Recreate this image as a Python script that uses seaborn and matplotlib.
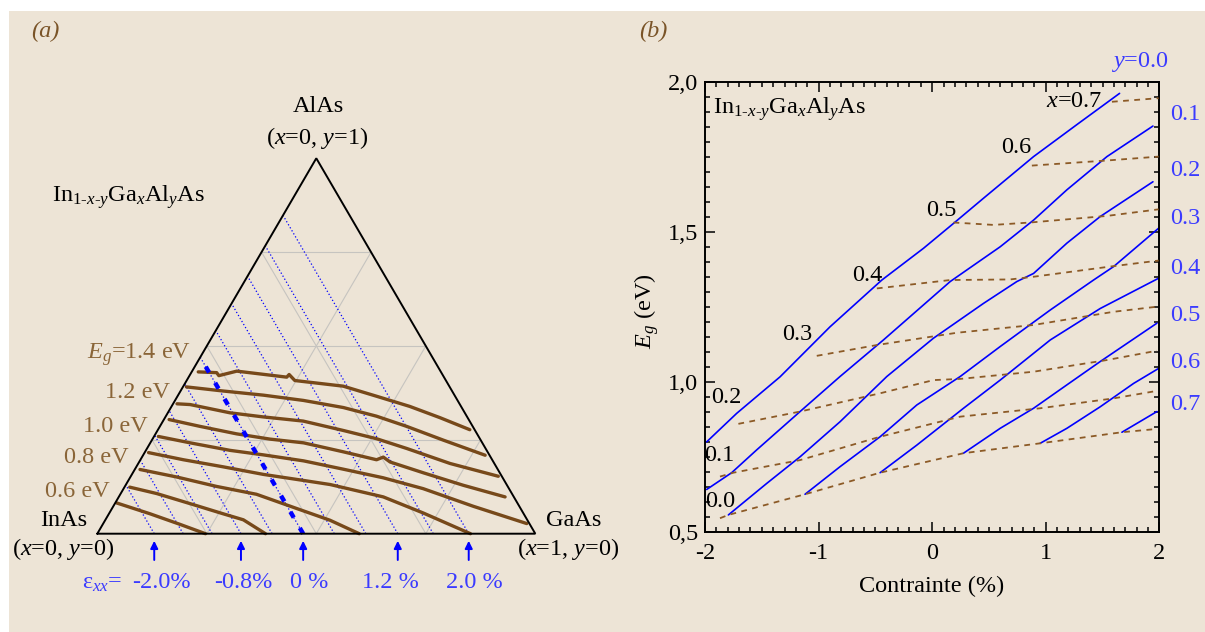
import numpy as np
import matplotlib
matplotlib.use('Agg')
import matplotlib.pyplot as plt
from matplotlib.patches import Rectangle
from matplotlib.ticker import MultipleLocator
import seaborn as sns

sns.set_theme(style='white')
plt.rcParams['font.family'] = ['Liberation Serif', 'DejaVu Serif']
plt.rcParams['mathtext.fontset'] = 'custom'
plt.rcParams['mathtext.rm'] = 'Liberation Serif'
plt.rcParams['mathtext.it'] = 'Liberation Serif:italic'
plt.rcParams['mathtext.bf'] = 'Liberation Serif:bold'
for k in ['text.color', 'axes.labelcolor', 'xtick.color', 'ytick.color', 'axes.edgecolor']:
    plt.rcParams[k] = 'black'

W, H = 1205, 632
BG = '#ede4d6'
BROWN = '#77491a'
LBROWN = '#8a6538'
DBROWN = '#8c5a26'
LBLUE = '#3b3bff'
FS = 17.5

# ---------------- (a) ternary data: In(1-x-y) Ga(x) Al(y) As ----------------
# iso-strain lines, Ga fraction where they meet the InAs-GaAs side (y=0)
strain_levels = [-2.0, -1.6, -1.2, -0.8, -0.4, 0.0, 0.4, 0.8, 1.2, 1.6, 2.0]
strain_ga = [0.130, 0.196, 0.262, 0.328, 0.399, 0.470, 0.541, 0.613, 0.686, 0.767, 0.848]
arrow_strains = [-2.0, -0.8, 0.0, 1.2, 2.0]
arrow_labels = ['-2.0%', '-0.8%', '0 %', '1.2 %', '2.0 %']

# iso-gap contours (x = Ga, y = Al)
eg_levels = [1.4, 1.3, 1.2, 1.1, 1.0, 0.9, 0.8, 0.7, 0.6]
eg_x = [
    [0.015, 0.058, 0.067, 0.102, 0.224, 0.226, 0.247, 0.365, 0.455, 0.544, 0.628, 0.712],
    [0.008, 0.098, 0.195, 0.293, 0.394, 0.481, 0.563, 0.666, 0.781],
    [0.009, 0.040, 0.142, 0.224, 0.320, 0.424, 0.511, 0.593, 0.712, 0.839],
    [0.012, 0.091, 0.185, 0.268, 0.350, 0.453, 0.539, 0.551, 0.573, 0.664, 0.771, 0.882],
    [0.010, 0.091, 0.192, 0.274, 0.374, 0.475, 0.578, 0.684, 0.822, 0.967],
    [0.009, 0.098, 0.199, 0.300, 0.399, 0.466, 0.604, 0.717, 0.852],
    [0.012, 0.106, 0.209, 0.311, 0.422, 0.513, 0.598],
    [0.012, 0.082, 0.172, 0.261, 0.315, 0.384],
    [0.003, 0.094, 0.176, 0.247],
]
eg_y = [
    [0.431, 0.429, 0.421, 0.433, 0.417, 0.424, 0.408, 0.393, 0.366, 0.339, 0.309, 0.277],
    [0.391, 0.380, 0.369, 0.355, 0.336, 0.313, 0.286, 0.249, 0.209],
    [0.346, 0.344, 0.322, 0.311, 0.300, 0.275, 0.253, 0.227, 0.187, 0.153],
    [0.304, 0.286, 0.266, 0.252, 0.242, 0.218, 0.197, 0.204, 0.191, 0.162, 0.129, 0.098],
    [0.259, 0.242, 0.222, 0.210, 0.194, 0.172, 0.149, 0.120, 0.073, 0.027],
    [0.216, 0.197, 0.178, 0.158, 0.142, 0.131, 0.098, 0.055, 0.000],
    [0.171, 0.151, 0.126, 0.105, 0.067, 0.036, 0.000],
    [0.124, 0.107, 0.080, 0.053, 0.037, 0.000],
    [0.082, 0.053, 0.025, 0.000],
]
eg_labels = [r'$E_g$=1.4 eV', '1.2 eV', '1.0 eV', '0.8 eV', '0.6 eV']

# ---------------- (b) Eg versus strain ----------------
# solid blue: constant Al fraction y
y_levels = [0.0, 0.1, 0.2, 0.3, 0.4, 0.5, 0.6, 0.7]
y_strain = [
    [-1.985, -1.721, -1.339, -0.899, -0.443, -0.076, 0.188, 0.452, 0.893, 1.275, 1.650],
    [-1.985, -1.765, -1.545, -1.163, -0.811, -0.429, 0.159, 0.599, 0.893, 1.186, 1.539, 1.944],
    [-1.794, -1.457, -1.163, -0.811, -0.399, 0.012, 0.452, 0.746, 0.893, 1.186, 1.480, 1.944],
    [-1.119, -0.811, -0.458, -0.135, 0.247, 0.599, 1.040, 1.421, 1.598, 1.994],
    [-0.458, -0.135, 0.276, 0.599, 1.040, 1.480, 1.994],
    [0.276, 0.599, 0.893, 1.186, 1.480, 1.979],
    [0.951, 1.186, 1.480, 1.774, 1.994],
    [1.671, 1.979],
]
y_eg = [
    [0.800, 0.895, 1.017, 1.184, 1.340, 1.446, 1.529, 1.613, 1.752, 1.859, 1.963],
    [0.641, 0.697, 0.773, 0.901, 1.018, 1.140, 1.335, 1.451, 1.540, 1.641, 1.752, 1.854],
    [0.556, 0.661, 0.750, 0.867, 1.018, 1.146, 1.262, 1.335, 1.362, 1.463, 1.552, 1.668],
    [0.625, 0.717, 0.817, 0.923, 1.018, 1.118, 1.240, 1.340, 1.385, 1.513],
    [0.697, 0.789, 0.912, 1.006, 1.140, 1.245, 1.346],
    [0.762, 0.845, 0.912, 0.990, 1.068, 1.196],
    [0.795, 0.845, 0.917, 0.995, 1.045],
    [0.832, 0.901],
]
# dashed brown: constant Ga fraction x
x_levels = [0.0, 0.1, 0.2, 0.3, 0.4, 0.5, 0.6, 0.7]
x_strain = [
    [-1.868, -1.794, -1.119, -0.458, 0.276, 0.951, 1.671, 1.979],
    [-1.868, -1.750, -1.163, -0.458, 0.247, 0.951, 1.597, 1.979],
    [-1.706, -1.163, -0.458, 0.012, 0.247, 0.893, 1.539, 1.979],
    [-1.016, -0.487, 0.217, 0.893, 1.597, 1.979],
    [-0.487, 0.159, 0.687, 0.893, 1.568, 1.994],
    [0.188, 0.540, 0.863, 1.539, 1.994],
    [0.878, 1.539, 1.994],
    [1.583, 1.994],
]
x_eg = [
    [0.545, 0.556, 0.625, 0.697, 0.762, 0.795, 0.832, 0.843],
    [0.684, 0.697, 0.739, 0.817, 0.884, 0.912, 0.945, 0.970],
    [0.860, 0.901, 0.962, 1.006, 1.010, 1.034, 1.073, 1.104],
    [1.087, 1.123, 1.164, 1.190, 1.234, 1.251],
    [1.312, 1.340, 1.342, 1.351, 1.385, 1.405],
    [1.532, 1.524, 1.532, 1.554, 1.576],
    [1.722, 1.739, 1.752],
    [1.935, 1.947],
]

SUB = '$_{1\u2010x\u2010y}$'
FORMULA = 'In' + SUB + r'Ga$_x$Al$_y$As'


def tern(x, y):
    x = np.asarray(x, float)
    y = np.asarray(y, float)
    return x + y / 2, y * np.sqrt(3) / 2


fig = plt.figure(figsize=(W / 100, H / 100), dpi=100, facecolor='white')
fig.patches.append(Rectangle((9 / W, 0), 1 - 9 / W, 1 - 11 / H, transform=fig.transFigure,
                             facecolor=BG, edgecolor='none', zorder=-10))


def ftext(px, py, s, **kw):
    kw.setdefault('fontsize', FS)
    fig.text(px / W, 1 - py / H, s, **kw)


# ---------------- panel (a) ----------------
ax0 = fig.add_axes([0, 0, 600 / W, 1])
SX, SY = 438.0, 433.5
X0, Y0 = 97.3, 533.7

for c in [0.25, 0.5, 0.75]:
    for gx, gy in [([0, 1 - c], [c, c]), ([c, c], [0, 1 - c]), ([c, 0], [0, c])]:
        ax0.plot(*tern(gx, gy), color='#c6c4c0', lw=0.8, zorder=1)

for g in strain_ga:
    ax0.plot(*tern([g, 0], [0, g]), color='blue', lw=0.9, ls=(0, (1.0, 1.8)), zorder=2)

g0 = strain_ga[strain_levels.index(0.0)]
ax0.plot(*tern([g0, 0], [0, g0]), color='blue', lw=3.2, ls=(0, (1.5, 2.7)),
         dash_capstyle='butt', zorder=4)

for xs, ys in zip(eg_x, eg_y):
    cx, cy = tern(xs, ys)
    sns.lineplot(x=cx, y=cy, sort=False, estimator=None, color=BROWN, lw=2.4,
                 ax=ax0, legend=False, zorder=3)

ax0.plot(*tern([0, 1, 0, 0], [0, 0, 1, 0]), color='black', lw=1.4, zorder=5,
         solid_joinstyle='miter')

tip = -(540.8 - Y0) / SY
tail = -(560.0 - Y0) / SY
lab_off = [5, 2, 4, -5, 4]
for s, lab, off in zip(arrow_strains, arrow_labels, lab_off):
    g = strain_ga[strain_levels.index(s)]
    ax0.annotate('', xy=(g, tip), xytext=(g, tail),
                 arrowprops=dict(arrowstyle='-|>', color='blue', lw=1.4,
                                 mutation_scale=11, shrinkA=0, shrinkB=0))
    ax0.annotate(lab, xy=(g, -(588.4 - Y0) / SY), xytext=(off, 0),
                 textcoords='offset points', ha='center', va='baseline',
                 color=LBLUE, fontsize=FS)

ax0.set_xlim(-X0 / SX, (600 - X0) / SX)
ax0.set_ylim(-(H - Y0) / SY, Y0 / SY)
ax0.axis('off')

ftext(45, 31, '(a)', color='#7a5428', style='italic', ha='center', va='center')
ftext(318, 106, 'AlAs', ha='center', va='center')
ftext(317, 138, r'($x$=0, $y$=1)', ha='center', va='center')
ftext(52, 201.7, FORMULA, ha='left', va='baseline')
for lab, rx, by in zip(eg_labels, [191, 170.2, 148, 128.7, 109.5],
                       [358.5, 398, 431.5, 463, 496.7]):
    ftext(rx, by, lab, color=LBROWN, ha='right', va='baseline')
ftext(63.5, 526, 'InAs', ha='center', va='baseline')
ftext(63.5, 555, r'($x$=0, $y$=0)', ha='center', va='baseline')
ftext(574, 526, 'GaAs', ha='center', va='baseline')
ftext(568, 555, r'($x$=1, $y$=0)', ha='center', va='baseline')
ftext(82, 588.4, r'ε$_{xx}$=', color=LBLUE, ha='left', va='baseline')

# ---------------- panel (b) ----------------
L, R, T, B = 705, 1159.3, 82.3, 531.7
ax1 = fig.add_axes([L / W, 1 - B / H, (R - L) / W, (B - T) / H])
ax1.set_facecolor('none')

for s, e in zip(y_strain, y_eg):
    sns.lineplot(x=s, y=e, sort=False, estimator=None, color='blue', lw=1.2,
                 ax=ax1, legend=False, zorder=2)
for s, e in zip(x_strain, x_eg):
    sns.lineplot(x=s, y=e, sort=False, estimator=None, color=DBROWN, lw=1.3,
                 ls=(0, (3.2, 3.0)), ax=ax1, legend=False, zorder=3)

ax1.set_xlim(-2, 2)
ax1.set_ylim(0.5, 2.0)
ax1.set_xticks([-2, -1, 0, 1, 2], labels=['-2', '-1', '0', '1', '2'])
ax1.set_yticks([0.5, 1.0, 1.5, 2.0], labels=['0,5', '1,0', '1,5', '2,0'])
ax1.xaxis.set_minor_locator(MultipleLocator(0.1))
ax1.yaxis.set_minor_locator(MultipleLocator(0.05))
ax1.tick_params(which='both', direction='in', top=True, right=True, width=1.1,
                labelsize=FS, bottom=True, left=True)
ax1.tick_params(which='major', length=7)
ax1.tick_params(which='minor', length=3.5)
ax1.tick_params(axis='x', which='major', pad=8)
ax1.tick_params(axis='y', which='major', pad=5)
ax1.set_xlabel('')
ax1.set_ylabel('')
for sp in ax1.spines.values():
    sp.set_linewidth(1.4)
    sp.set_color('black')

x_lab_pos = [(-1.73, 0.602), (-1.742, 0.756), (-1.677, 0.949), (-1.051, 1.157),
             (-0.435, 1.354), (0.217, 1.571), (0.876, 1.782), (1.495, 1.935)]
for lv, (px, py) in zip(x_levels, x_lab_pos):
    lab = r'$x$=%.1f' % lv if lv == x_levels[-1] else '%.1f' % lv
    ax1.text(px, py, lab, ha='right', va='center', fontsize=FS)

y_lab_eg = [2.069, 1.891, 1.707, 1.547, 1.380, 1.220, 1.066, 0.923]
for lv, e in zip(y_levels, y_lab_eg):
    if lv == y_levels[0]:
        ax1.text(1.833, e, r'$y$=%.1f' % lv, ha='center', va='center',
                 fontsize=FS, color=LBLUE, clip_on=False)
    else:
        ax1.text(2.225, e, '%.1f' % lv, ha='center', va='center',
                 fontsize=FS, color=LBLUE, clip_on=False)

ax1.text(-1.93, 1.894, FORMULA, ha='left', va='baseline', fontsize=FS)
ax1.text(-0.128, 0.49, r'$E_g$ (eV)', transform=ax1.transAxes, rotation=90,
         ha='center', va='center', fontsize=FS)
ax1.text(0.499, -0.121, 'Contrainte (%)', transform=ax1.transAxes,
         ha='center', va='center', fontsize=FS)
ftext(653, 31, '(b)', color='#7a5428', style='italic', ha='center', va='center')

fig.savefig('out.png', dpi=100, facecolor=fig.get_facecolor())
